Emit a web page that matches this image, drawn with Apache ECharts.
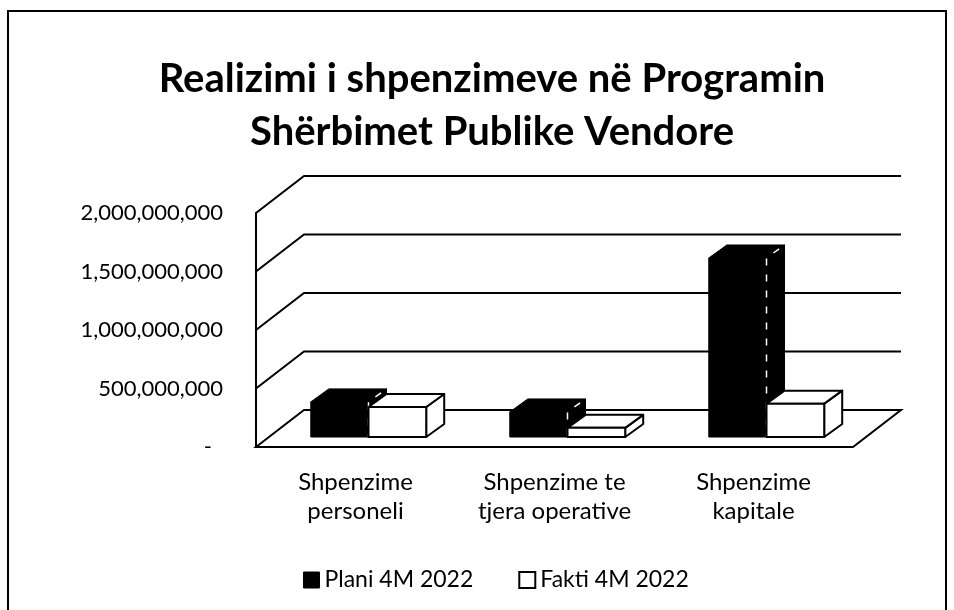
<!DOCTYPE html>
<html>
<head>
<meta charset="utf-8">
<script src="https://cdn.jsdelivr.net/npm/echarts@6/dist/echarts.min.js"></script>
<style>
html,body{margin:0;padding:0;background:#fff;}
#chart{width:954px;height:610px;}
</style>
</head>
<body>
<div id="chart"></div>
<script>
// ---- data ----
const titleText = 'Realizimi i shpenzimeve në Programin\nShërbimet Publike Vendore';
const categories = ['Shpenzime\npersoneli', 'Shpenzime te\ntjera operative', 'Shpenzime\nkapitale'];
const seriesNames = ['Plani 4M 2022', 'Fakti 4M 2022'];
const plani = [300000000, 214000000, 1530000000];
const fakti = [256000000, 78000000, 285000000];
const yTicks = [0, 500000000, 1000000000, 1500000000, 2000000000];

// ---- 3D look (styling constants) ----
const FONT = 'Lato';
const WALL_DX = 48, WALL_DY = 37;     // depth of floor / back wall
const BAR_SHIFT_X = 13, BAR_SHIFT_Y = 10; // bar front plane offset from front of floor
const BAR_DX = 18, BAR_DY = 13;       // bar depth
const BAR_W = 0.29;                   // bar width as fraction of category band

function fmt(v) {
  if (v === 0) return '{d|-}';
  return String(v).replace(/\B(?=(\d{3})+(?!\d))/g, ',');
}

function wallsItem(params, api) {
  const v = api.value(1);
  const y = api.coord([0, v])[1];
  const cs = params.coordSys;
  const x0 = cs.x, x1 = cs.x + cs.width;
  if (v === 0) {
    return {
      type: 'polygon',
      shape: { points: [[x0, y], [x0 + WALL_DX, y - WALL_DY], [x1 + WALL_DX, y - WALL_DY], [x1, y]] },
      style: { stroke: '#000', lineWidth: 2, fill: '#fff' }
    };
  }
  return {
    type: 'polyline',
    shape: { points: [[x0, y], [x0 + WALL_DX, y - WALL_DY], [x1 + WALL_DX, y - WALL_DY]] },
    style: { stroke: '#000', lineWidth: 2, fill: null }
  };
}

function makeBarRenderer(which) {
  return function (params, api) {
    const i = api.value(0), v = api.value(1);
    const base = api.coord([i, 0]);
    const top = api.coord([i, v]);
    const band = api.size([1, 0])[0];
    const w = band * BAR_W;
    const cx = base[0] + BAR_SHIFT_X;
    const x0 = which === 0 ? cx - w : cx;
    const x1 = x0 + w;
    const yB = base[1] - BAR_SHIFT_Y;
    const yT = top[1] - BAR_SHIFT_Y;
    const dark = which === 0;
    const fill = dark ? '#000' : '#fff';
    const st = { fill: fill, stroke: '#000', lineWidth: dark ? 1 : 2, lineJoin: 'round' };
    const children = [
      { type: 'polygon', shape: { points: [[x1, yT], [x1 + BAR_DX, yT - BAR_DY], [x1 + BAR_DX, yB - BAR_DY], [x1, yB]] }, style: st },
      { type: 'polygon', shape: { points: [[x0, yT], [x0 + BAR_DX, yT - BAR_DY], [x1 + BAR_DX, yT - BAR_DY], [x1, yT]] }, style: st },
      { type: 'rect', shape: { x: x0, y: yT, width: w, height: yB - yT }, style: st }
    ];
    if (dark) {
      children.push({ type: 'polyline', shape: { points: [[x1 + BAR_DX * 0.7, yT - BAR_DY * 0.7], [x1, yT], [x1, yB]] },
        style: { stroke: '#fff', lineWidth: 1.5, lineDash: [7, 9], fill: null } });
    }
    return { type: 'group', children: children };
  };
}

const chart = echarts.init(document.getElementById('chart'), null, { renderer: 'canvas' });
chart.setOption({
  backgroundColor: '#fff',
  animation: false,
  title: {
    text: titleText,
    left: 487,
    textAlign: 'center',
    top: 48,
    textStyle: { fontFamily: FONT, fontWeight: 'bold', fontSize: 40, lineHeight: 53, color: '#000' }
  },
  graphic: [{
    type: 'rect', silent: true, z: -1,
    shape: { x: 8, y: 11, width: 938, height: 640 },
    style: { fill: null, stroke: '#000', lineWidth: 2 }
  }],
  legend: {
    data: [
      { name: seriesNames[0], itemStyle: { color: '#000', borderColor: '#000', borderWidth: 1 } },
      { name: seriesNames[1], itemStyle: { color: '#fff', borderColor: '#000', borderWidth: 2 } }
    ],
    left: 303, top: 567, padding: 0,
    icon: 'rect', itemWidth: 16, itemHeight: 16, itemGap: 45,
    textStyle: { fontFamily: FONT, fontSize: 23, lineHeight: 26, color: '#000' }
  },
  grid: { left: 256, right: 101, top: 213, bottom: 163, containLabel: false },
  xAxis: {
    type: 'category',
    data: categories,
    axisLine: { show: false },
    axisTick: { show: false },
    splitLine: { show: false },
    axisLabel: { interval: 0, margin: 21, fontFamily: FONT, fontSize: 24, lineHeight: 29, color: '#000', align: 'center' }
  },
  yAxis: {
    type: 'value',
    min: yTicks[0], max: yTicks[yTicks.length - 1], interval: yTicks[1] - yTicks[0],
    axisLine: { show: true, lineStyle: { color: '#000', width: 2 } },
    axisTick: { show: false },
    splitLine: { show: false },
    axisLabel: {
      margin: 33, fontFamily: FONT, fontSize: 22, color: '#000',
      formatter: fmt,
      rich: { d: { fontFamily: FONT, fontSize: 22, color: '#000', padding: [0, 11, 0, 0] } }
    }
  },
  series: [
    {
      name: 'walls', type: 'custom', silent: true, z: 1,
      renderItem: wallsItem,
      data: yTicks.map(v => [0, v]),
      encode: { x: 0, y: 1 }
    },
    {
      name: seriesNames[0], type: 'custom', z: 2,
      itemStyle: { color: '#000' },
      renderItem: makeBarRenderer(0),
      data: plani.map((v, i) => [i, v]),
      encode: { x: 0, y: 1 }
    },
    {
      name: seriesNames[1], type: 'custom', z: 3,
      itemStyle: { color: '#fff', borderColor: '#000', borderWidth: 2 },
      renderItem: makeBarRenderer(1),
      data: fakti.map((v, i) => [i, v]),
      encode: { x: 0, y: 1 }
    }
  ]
});
</script>
</body>
</html>
